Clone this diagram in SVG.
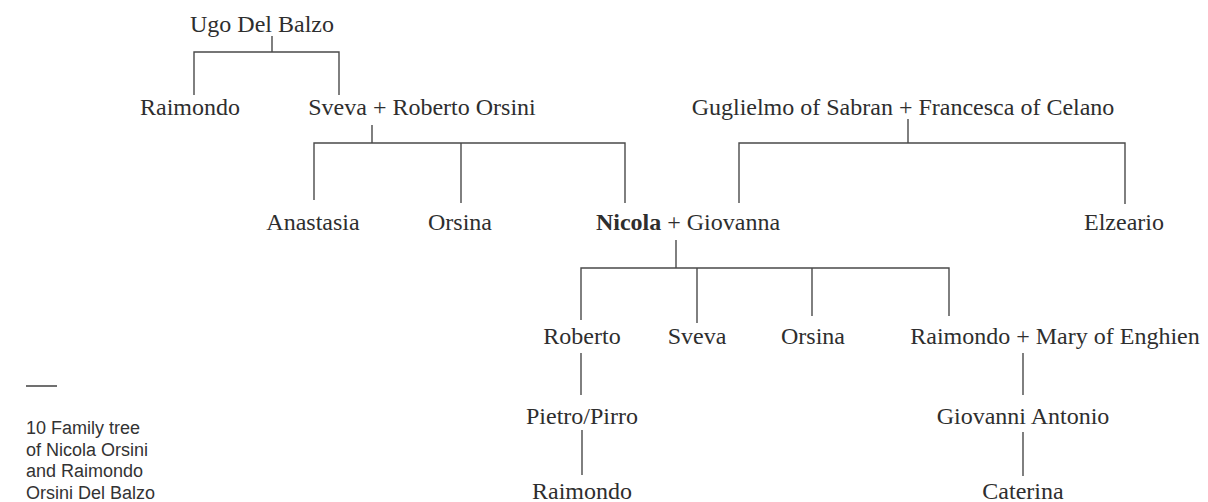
<svg xmlns="http://www.w3.org/2000/svg" width="1208" height="502" viewBox="0 0 1208 502">
<style>
.n{font-family:"Liberation Serif","Times New Roman",serif;font-size:24px;fill:#2e2e2e;text-anchor:middle}
.b{font-weight:bold}
.c{stroke:#4a4a4a;stroke-width:1.4;fill:none}
.cap{font-family:"Liberation Sans",Arial,sans-serif;font-size:18px;fill:#333}
</style>
<rect width="1208" height="502" fill="#fff"/>
<g id="connectors" class="c">
<path d="M272 36V52M194 95V52H339V95"/>
<path d="M372 125V143M314 200V143H625V203M461 143V203"/>
<path d="M908 119V143M739 203V143H1125V204"/>
<path d="M676 240V268M581 320V268H949V316M697 268V323M812 268V316"/>
<path d="M581 353V395M582 430V475"/>
<path d="M1023 353V395M1023 432V476"/>
</g>
<g id="ugo"><text class="n" x="262" y="32">Ugo Del Balzo</text></g>
<g id="raimondo1"><text class="n" x="190" y="115">Raimondo</text></g>
<g id="sveva-roberto"><text class="n" x="422" y="115">Sveva + Roberto Orsini</text></g>
<g id="guglielmo-francesca"><text class="n" x="903" y="115">Guglielmo of Sabran + Francesca of Celano</text></g>
<g id="anastasia"><text class="n" x="313" y="230">Anastasia</text></g>
<g id="orsina1"><text class="n" x="460" y="230">Orsina</text></g>
<g id="nicola-giovanna"><text class="n" x="688" y="230"><tspan class="b">Nicola</tspan> + Giovanna</text></g>
<g id="elzeario"><text class="n" x="1124" y="230">Elzeario</text></g>
<g id="roberto"><text class="n" x="582" y="344">Roberto</text></g>
<g id="sveva2"><text class="n" x="697" y="344">Sveva</text></g>
<g id="orsina2"><text class="n" x="813" y="344">Orsina</text></g>
<g id="raimondo-mary"><text class="n" x="1055" y="344">Raimondo + Mary of Enghien</text></g>
<g id="pietro"><text class="n" x="582" y="424">Pietro/Pirro</text></g>
<g id="giovanni"><text class="n" x="1023" y="424">Giovanni Antonio</text></g>
<g id="raimondo3"><text class="n" x="582" y="499">Raimondo</text></g>
<g id="caterina"><text class="n" x="1023" y="499">Caterina</text></g>
<g id="caption">
<line x1="26" y1="386" x2="57" y2="386" stroke="#333" stroke-width="1.4"/>
<text class="cap" x="26" y="434">10 Family tree</text>
<text class="cap" x="26" y="455.5">of Nicola Orsini</text>
<text class="cap" x="26" y="477">and Raimondo</text>
<text class="cap" x="26" y="498.5">Orsini Del Balzo</text>
</g>
</svg>
